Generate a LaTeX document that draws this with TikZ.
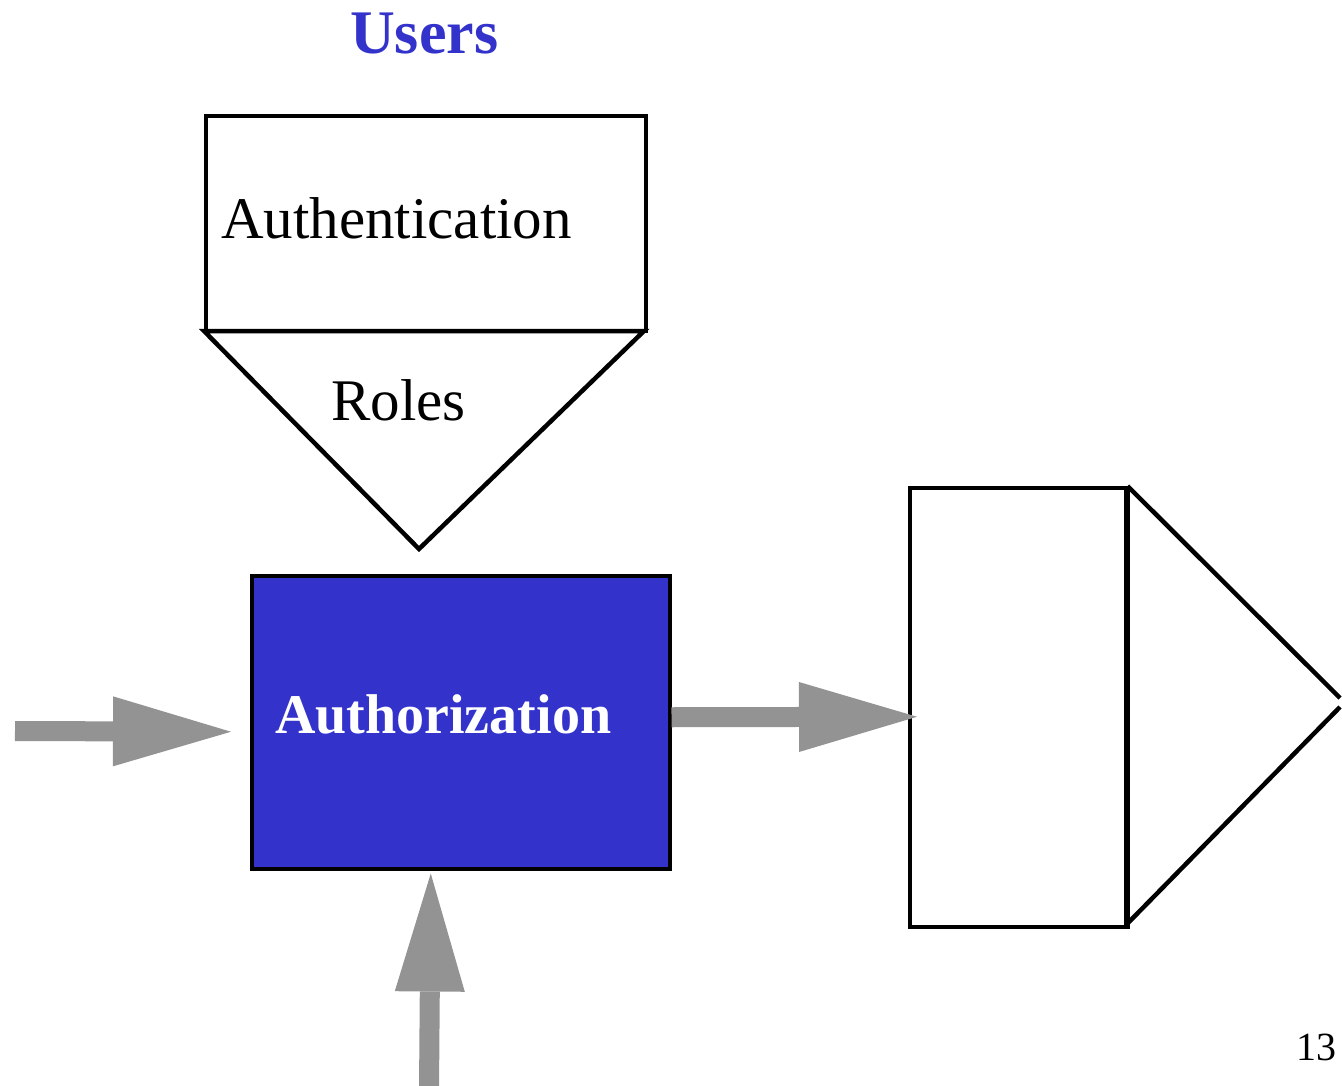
\documentclass[tikz,border=0pt]{standalone}
\usepackage{fontspec}
\setmainfont{Liberation Serif}
\usetikzlibrary{arrows.meta,calc}
\definecolor{authblue}{RGB}{51,51,204}
\definecolor{arrowgray}{RGB}{147,147,147}
\tikzset{
  outline/.style={draw=black, line width=4pt, inner sep=0pt},
  fatarrow/.style={draw=arrowgray, line width=20pt, line cap=butt,
    -{Triangle[length=118pt,width=70pt,line width=0pt]}},
  txt/.style={inner sep=0pt, anchor=base west},
}
\begin{document}
\begin{tikzpicture}[x=1pt,y=-1pt]
\useasboundingbox (0,0) rectangle (1342,1086);
% title
\node[txt, text=authblue, font=\fontsize{62}{62}\selectfont\bfseries] (users) at (350,54) {Users};
% authentication box
\node[outline, minimum width=440pt, minimum height=215pt, anchor=north west] (authn) at (204,114) {};
\node[txt, font=\fontsize{59}{59}\selectfont] (authntxt) at (221,239) {Authentication};
% roles triangle
\coordinate (rolesL) at (204,331);
\coordinate (rolesB) at (419,549);
\coordinate (rolesR) at (644,331);
\draw[line width=4.5pt, line join=miter] (rolesL) -- (rolesB) -- (rolesR) -- cycle;
\node[txt, font=\fontsize{59}{59}\selectfont] (roles) at (331,420) {Roles};
% authorization box
\node[outline, line width=3.5pt, fill=authblue, minimum width=418pt, minimum height=293pt, anchor=north west] (authz) at (250,574) {};
\node[txt, text=white, font=\fontsize{56}{56}\selectfont\bfseries] (authztxt) at (275,733) {Authorization};
% output box
\node[outline, line width=3.5pt, minimum width=216pt, minimum height=439pt, anchor=north west] (outbox) at (908,486) {};
\coordinate (outTipA) at (1340,698);
\coordinate (outTipB) at (1340,707);
\draw[line width=5pt] (outbox.north east) -- (outbox.south east);
\draw[line width=4.5pt] (outbox.north east) -- (outTipA);
\draw[line width=4.5pt] (outTipB) -- ([yshift=5]outbox.south east);
% arrows
\coordinate (inLeft) at (15,731);
\coordinate (inBottom) at (429,1090);
\draw[fatarrow] (inLeft) -- ([shift={(-19,9.5)}]authz.west);
\draw[fatarrow] ([yshift=5]authz.east) -- ([shift={(9,9.5)}]outbox.west);
\draw[fatarrow] (inBottom) -- ([shift={(-30,3)}]authz.south);
% page number
\node[txt, font=\fontsize{40}{40}\selectfont] (pagenum) at (1296,1060) {13};
\end{tikzpicture}
\end{document}
